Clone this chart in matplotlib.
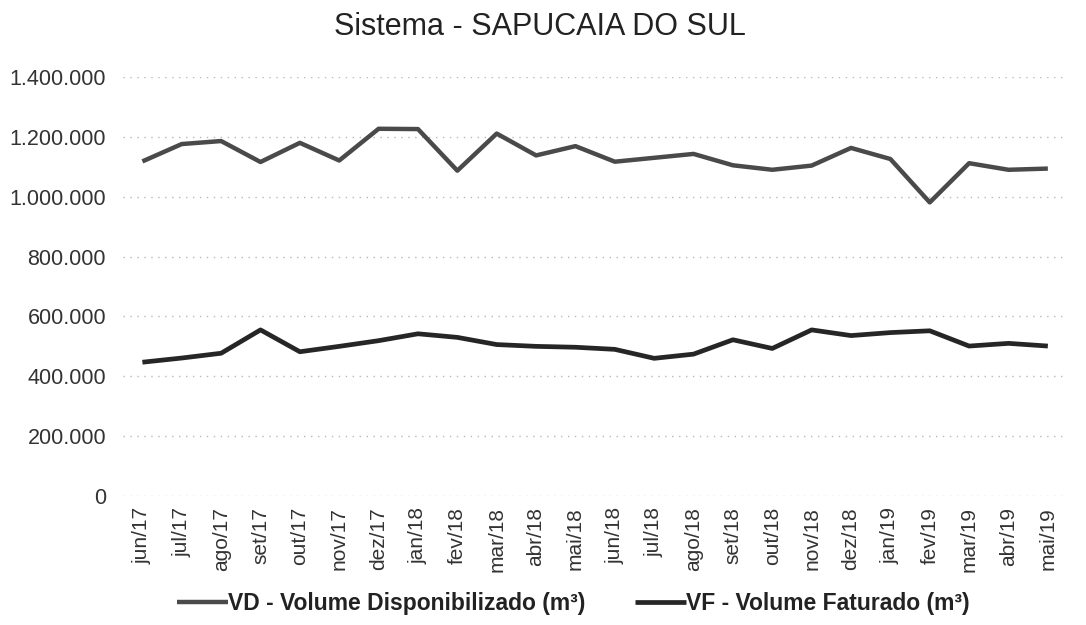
import matplotlib.pyplot as plt
from matplotlib.ticker import FuncFormatter

plt.rcParams['font.family'] = ['Liberation Sans', 'DejaVu Sans']
plt.rcParams['lines.solid_capstyle'] = 'butt'

meses = ['jun/17', 'jul/17', 'ago/17', 'set/17', 'out/17', 'nov/17', 'dez/17',
         'jan/18', 'fev/18', 'mar/18', 'abr/18', 'mai/18', 'jun/18', 'jul/18',
         'ago/18', 'set/18', 'out/18', 'nov/18', 'dez/18', 'jan/19', 'fev/19',
         'mar/19', 'abr/19', 'mai/19']

vd = [1118000, 1176000, 1186000, 1116000, 1180000, 1121000, 1227000,
      1226000, 1087000, 1211000, 1138000, 1169000, 1117000, 1130000,
      1143000, 1105000, 1090000, 1104000, 1163000, 1126000, 981000,
      1112000, 1090000, 1094000]

vf = [447000, 461000, 477000, 555000, 482000, 500000, 519000,
      542000, 530000, 506000, 500000, 497000, 490000, 460000,
      474000, 522000, 493000, 555000, 536000, 546000, 552000,
      501000, 510000, 501000]

label_vd = 'VD - Volume Disponibilizado (m³)'
label_vf = 'VF - Volume Faturado (m³)'


def fmt_milhar(v, pos):
    return '{:,.0f}'.format(v).replace(',', '.')


fig = plt.figure(figsize=(10.86, 6.25), dpi=100)
ax = fig.add_axes([0.113, 0.2064, 0.870, 0.6704])

x = list(range(len(meses)))
ax.plot(x, vd, color='#4a4a4a', linewidth=3.2, label=label_vd)
ax.plot(x, vf, color='#262626', linewidth=3.4, label=label_vf)

ax.set_xlim(-0.5, len(meses) - 0.5)
ax.set_ylim(0, 1400000)
ax.set_yticks(range(0, 1400001, 200000))
ax.yaxis.set_major_formatter(FuncFormatter(fmt_milhar))
ax.set_xticks(x)
ax.set_xticklabels(meses, rotation=90)

ax.tick_params(axis='both', length=0, colors='#333333')
ax.tick_params(axis='y', pad=12, labelsize=15.5)
ax.tick_params(axis='x', pad=8, labelsize=15)
ax.grid(axis='y', color='#b8b8b8', linestyle=(0, (1, 4)), linewidth=1.0)
for s in ax.spines.values():
    s.set_visible(False)

fig.text(0.497, 0.944, 'Sistema - SAPUCAIA DO SUL', ha='center',
         va='baseline', fontsize=22, color='#222222')

fig.legend(loc='center', bbox_to_anchor=(0.528, 0.035), ncol=2,
           frameon=False, handlelength=2.2, handletextpad=0.0,
           columnspacing=2.2, prop={'weight': 'bold', 'size': 16.5},
           labelcolor='#222222')

fig.savefig('out.png', dpi=100)
